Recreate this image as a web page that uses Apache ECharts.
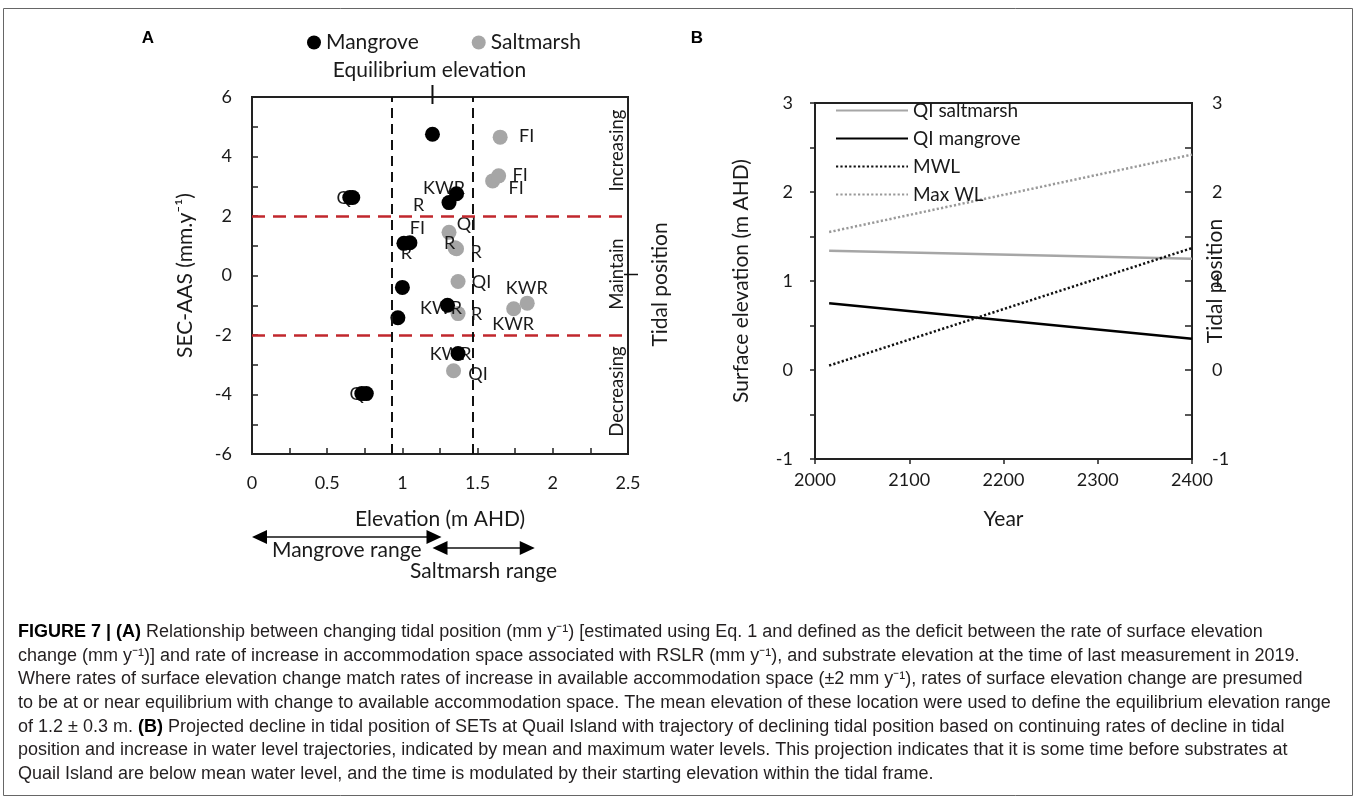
<!DOCTYPE html>
<html><head><meta charset="utf-8">
<script src="https://cdn.jsdelivr.net/npm/echarts@6/dist/echarts.min.js"></script>
<style>html,body{margin:0;padding:0;background:#fff}#c{width:1357px;height:802px}</style>
</head><body><div id="c"></div>
<script>
// ---------- Panel A data ----------
const mangroveElev = [1.20, 0.65, 0.67, 1.31, 1.36, 1.01, 1.05, 1.00, 0.97, 1.30, 1.37, 0.73, 0.76];
const mangroveSec  = [4.75, 2.62, 2.62, 2.45, 2.75, 1.08, 1.10, -0.40, -1.42, -1.00, -2.62, -3.97, -3.97];
const mangroveSite = ['', 'QI', '', 'R', 'KWR', 'R', 'FI', '', '', 'KWR', 'KWR', 'QI', ''];
const saltElev = [1.65, 1.60, 1.64, 1.31, 1.35, 1.36, 1.37, 1.74, 1.83, 1.37, 1.34];
const saltSec  = [4.65, 3.18, 3.35, 1.45, 0.93, 0.90, -0.20, -1.12, -0.93, -1.28, -3.20];
const saltSite = ['FI', 'FI', 'FI', 'QI', 'R', 'R', 'QI', 'KWR', 'KWR', 'R', 'QI'];
const equilibriumRange = [0.93, 1.47];
const equilibriumElev = 1.2;
const secBand = [2, -2];
const tidalZones = ['Increasing', 'Maintain', 'Decreasing'];
const tidalZoneY = [4.2, 0.05, -3.9];
const mangroveRange = [0.0, 1.26];
const saltmarshRange = [1.20, 1.88];

// ---------- Panel B data ----------
const years = [2015, 2400];
const qiSaltmarsh = [1.34, 1.25];
const qiMangrove = [0.75, 0.35];
const mwl = [0.05, 1.37];
const maxWl = [1.55, 2.42];

// label offsets (layout only)
const mangroveLabelOffset = [[0,0],[-3,1],[0,0],[-30,3],[-12,-5],[3,10],[8,-14],[0,0],[0,0],[-6,3],[-7,1],[-2,1],[0,0]];
const saltLabelOffset = [[27,0],[24,8],[22,0],[18,-8],[-5,-4],[20,4],[24,1],[0,16],[0,-14],[19,1],[25,4]];

const captionLines = [
 '{b|FIGURE 7 | (A)} Relationship between changing tidal position (mm y\u207B\u00B9) [estimated using Eq. 1 and defined as the deficit between the rate of surface elevation',
 'change (mm y\u207B\u00B9)] and rate of increase in accommodation space associated with RSLR (mm y\u207B\u00B9), and substrate elevation at the time of last measurement in 2019.',
 'Where rates of surface elevation change match rates of increase in available accommodation space (\u00B12 mm y\u207B\u00B9), rates of surface elevation change are presumed',
 'to be at or near equilibrium with change to available accommodation space. The mean elevation of these location were used to define the equilibrium elevation range',
 'of 1.2 \u00B1 0.3 m. {b|(B)} Projected decline in tidal position of SETs at Quail Island with trajectory of declining tidal position based on continuing rates of decline in tidal',
 'position and increase in water level trajectories, indicated by mean and maximum water levels. This projection indicates that it is some time before substrates at',
 'Quail Island are below mean water level, and the time is modulated by their starting elevation within the tidal frame.'
];

const font = 'Lato, "Open Sans", sans-serif';
const txt = '#1a1a1a';
const black = '#000000';
const gray = '#a6a6a6';
const nameSize = 21;

const chart = echarts.init(document.getElementById('c'), null, {renderer: 'canvas'});

const labelItems = [];
const labelOffsets = [];
function addLabels(xs, ys, sites, offs) {
  xs.forEach((x, i) => {
    if (sites[i]) { labelItems.push({value: [x, ys[i]], name: sites[i]}); labelOffsets.push(offs[i]); }
  });
}
addLabels(saltElev, saltSec, saltSite, saltLabelOffset);
addLabels(mangroveElev, mangroveSec, mangroveSite, mangroveLabelOffset);

const axisLine = {show: true, onZero: false, lineStyle: {color: '#222', width: 2}};
const lblStyle = {fontFamily: font, fontSize: 18, color: txt};
const nameStyle = {fontFamily: font, fontSize: nameSize, color: txt};

const option = {
  animation: false,
  backgroundColor: '#fff',
  grid: [
    {left: 252, right: 1357 - 628, top: 97, bottom: 802 - 454, show: true, borderColor: '#222', borderWidth: 2, backgroundColor: 'transparent'},
    {left: 815, right: 1357 - 1192, top: 103, bottom: 802 - 459, show: true, borderColor: '#222', borderWidth: 2, backgroundColor: 'transparent'}
  ],
  legend: [
    {data: ['Mangrove', 'Saltmarsh'], left: 302, top: 27, itemWidth: 14, itemHeight: 14, itemGap: 53, icon: 'circle',
     textStyle: {fontFamily: font, fontSize: nameSize, color: txt}, selectedMode: false},
    {data: ['QI saltmarsh', 'QI mangrove', 'MWL', 'Max WL'], orient: 'vertical', left: 830, top: 96, itemWidth: 72, itemHeight: 14, itemGap: 9,
     itemStyle: {opacity: 0}, textStyle: {fontFamily: font, fontSize: 19, color: txt}, selectedMode: false}
  ],
  xAxis: [
    {gridIndex: 0, type: 'value', min: 0, max: 2.5, interval: 0.5, axisLine,
     axisTick: {show: true, inside: true, length: 6, lineStyle: {color: '#222', width: 1.5}},
     minorTick: {show: true, splitNumber: 2, length: 6, lineStyle: {color: '#222', width: 1.5}},
     axisLabel: Object.assign({margin: 20}, lblStyle), splitLine: {show: false}, minorSplitLine: {show: false},
     name: 'Elevation (m AHD)', nameLocation: 'middle', nameGap: 55, nameTextStyle: nameStyle},
    {gridIndex: 1, type: 'value', min: 2000, max: 2400, interval: 100, axisLine,
     axisTick: {show: true, inside: false, length: 5, lineStyle: {color: '#222', width: 1.5}},
     axisLabel: Object.assign({margin: 12, formatter: v => String(v)}, lblStyle), splitLine: {show: false},
     name: 'Year', nameLocation: 'middle', nameGap: 50, nameTextStyle: nameStyle}
  ],
  yAxis: [
    {gridIndex: 0, type: 'value', min: -6, max: 6, interval: 2, axisLine,
     axisTick: {show: true, inside: true, length: 6, lineStyle: {color: '#222', width: 1.5}},
     minorTick: {show: true, splitNumber: 2, length: 6, lineStyle: {color: '#222', width: 1.5}},
     axisLabel: Object.assign({margin: 20}, lblStyle), splitLine: {show: false}, minorSplitLine: {show: false},
     name: 'SEC-AAS (mm.y\u207B\u00B9)', nameLocation: 'middle', nameGap: 56, nameRotate: 90, nameTextStyle: nameStyle},
    {gridIndex: 1, type: 'value', min: -1, max: 3, interval: 1, axisLine,
     axisTick: {show: true, inside: false, length: 5, lineStyle: {color: '#222', width: 1.5}},
     minorTick: {show: true, splitNumber: 2, length: 5, lineStyle: {color: '#222', width: 1.5}},
     axisLabel: Object.assign({margin: 22}, lblStyle), splitLine: {show: false}, minorSplitLine: {show: false},
     name: 'Surface elevation (m AHD)', nameLocation: 'middle', nameGap: 63, nameRotate: 90, nameTextStyle: nameStyle},
    {gridIndex: 1, type: 'value', position: 'right', min: -1, max: 3, interval: 1, axisLine,
     axisTick: {show: true, inside: true, length: 7, lineStyle: {color: '#222', width: 1.5}},
     minorTick: {show: true, splitNumber: 2, length: 7, lineStyle: {color: '#222', width: 1.5}},
     axisLabel: Object.assign({margin: 20}, lblStyle), splitLine: {show: false}, minorSplitLine: {show: false}}
  ],
  series: [
    {name: 'Saltmarsh', type: 'scatter', xAxisIndex: 0, yAxisIndex: 0, z: 2, symbolSize: 15,
     itemStyle: {color: gray, opacity: 1}, emphasis: {disabled: true},
     data: saltElev.map((x, i) => [x, saltSec[i]]),
     markLine: {silent: true, symbol: 'none', label: {show: false}, animation: false,
       data: [
         ...secBand.map(v => ({yAxis: v, lineStyle: {color: '#c1272d', width: 2.5, type: [13, 8]}})),
         ...equilibriumRange.map(v => ({xAxis: v, lineStyle: {color: '#111', width: 2, type: [10, 6]}}))
       ]}},
    {name: 'siteLabels', type: 'scatter', xAxisIndex: 0, yAxisIndex: 0, z: 3, symbolSize: 1,
     itemStyle: {color: 'rgba(255,255,255,0)'}, emphasis: {disabled: true}, silent: true,
     label: {show: true, position: [0, 0], align: 'center', verticalAlign: 'middle', formatter: '{b}',
             fontFamily: font, fontSize: 18, color: '#1a1a1a', opacity: 1, textBorderWidth: 0},
     labelLayout: function (p) {
       const o = labelOffsets[p.dataIndex] || [0, 0];
       return {dx: o[0], dy: o[1], hideOverlap: false};
     },
     data: labelItems},
    {name: 'Mangrove', type: 'scatter', xAxisIndex: 0, yAxisIndex: 0, z: 4, symbolSize: 15,
     itemStyle: {color: black, opacity: 1}, emphasis: {disabled: true},
     data: mangroveElev.map((x, i) => [x, mangroveSec[i]])},

    {name: 'QI saltmarsh', type: 'line', xAxisIndex: 1, yAxisIndex: 1, symbol: 'none', color: gray,
     lineStyle: {color: gray, width: 2.5}, data: years.map((y, i) => [y, qiSaltmarsh[i]])},
    {name: 'QI mangrove', type: 'line', xAxisIndex: 1, yAxisIndex: 1, symbol: 'none', color: black,
     lineStyle: {color: black, width: 2.5}, data: years.map((y, i) => [y, qiMangrove[i]])},
    {name: 'MWL', type: 'line', xAxisIndex: 1, yAxisIndex: 1, symbol: 'none', color: black,
     lineStyle: {color: '#111', width: 2.5, type: [2.2, 2.2]}, data: years.map((y, i) => [y, mwl[i]])},
    {name: 'Max WL', type: 'line', xAxisIndex: 1, yAxisIndex: 1, symbol: 'none', color: '#999',
     lineStyle: {color: '#999', width: 2.5, type: [2.2, 2.2]}, data: years.map((y, i) => [y, maxWl[i]])}
  ]
};
chart.setOption(option);

// ---------- annotations computed via axis scales ----------
const pA = (x, y) => chart.convertToPixel({gridIndex: 0}, [x, y]);
const pB = (x, y) => chart.convertToPixel({gridIndex: 1}, [x, y]);
const g = [];

// equilibrium tick
const eq = pA(equilibriumElev, 6);
g.push({type: 'line', shape: {x1: eq[0], y1: eq[1] - 12, x2: eq[0], y2: eq[1] + 7}, style: {stroke: '#111', lineWidth: 2}, z: 10});
g.push({type: 'text', x: eq[0] - 3, y: eq[1] - 27, style: {text: 'Equilibrium elevation', fontFamily: font, fontSize: nameSize, fill: txt, align: 'center', verticalAlign: 'middle'}});

// right tick at 0 and tidal position label
const z0 = pA(2.5, 0);
g.push({type: 'line', shape: {x1: z0[0] - 4, y1: z0[1] - 1, x2: z0[0] + 10, y2: z0[1] - 1}, style: {stroke: '#111', lineWidth: 1.5}, z: 10});
const tp = pA(2.5, -0.3);
g.push({type: 'text', x: tp[0] + 32, y: tp[1], rotation: Math.PI / 2, style: {text: 'Tidal position', fontFamily: font, fontSize: nameSize, fill: txt, align: 'center', verticalAlign: 'middle'}});

tidalZones.forEach((t, i) => {
  const p = pA(2.43, tidalZoneY[i]);
  g.push({type: 'text', x: p[0], y: p[1], rotation: Math.PI / 2, style: {text: t, fontFamily: font, fontSize: 18.5, fill: txt, align: 'center', verticalAlign: 'middle'}});
});

// panel B right axis title
const tpB = pB(2400, 1.0);
g.push({type: 'text', x: tpB[0] + 23, y: tpB[1], rotation: Math.PI / 2, style: {text: 'Tidal position', fontFamily: font, fontSize: nameSize, fill: txt, align: 'center', verticalAlign: 'middle'}});

// range arrows
function arrow(xa, xb, y) {
  const a = pA(xa, 0)[0], b = pA(xb, 0)[0];
  const L = 15, H = 7;
  g.push({type: 'line', shape: {x1: a + L - 2, y1: y, x2: b - L + 2, y2: y}, style: {stroke: '#111', lineWidth: 1.5}});
  g.push({type: 'polygon', shape: {points: [[a, y], [a + L, y - H], [a + L, y + H]]}, style: {fill: '#000'}});
  g.push({type: 'polygon', shape: {points: [[b, y], [b - L, y - H], [b - L, y + H]]}, style: {fill: '#000'}});
}
arrow(mangroveRange[0], mangroveRange[1], 537);
arrow(saltmarshRange[0], saltmarshRange[1], 548);
g.push({type: 'text', x: pA(0.63, 0)[0], y: 550, style: {text: 'Mangrove range', fontFamily: font, fontSize: nameSize, fill: txt, align: 'center', verticalAlign: 'middle'}});
g.push({type: 'text', x: pA(1.54, 0)[0], y: 571, style: {text: 'Saltmarsh range', fontFamily: font, fontSize: nameSize, fill: txt, align: 'center', verticalAlign: 'middle'}});

// panel letters
g.push({type: 'text', x: 148, y: 38, style: {text: 'A', fontFamily: '"Liberation Sans", Arial, sans-serif', fontWeight: 'bold', fontSize: 17, fill: '#000', align: 'center', verticalAlign: 'middle'}});
g.push({type: 'text', x: 697, y: 38, style: {text: 'B', fontFamily: '"Liberation Sans", Arial, sans-serif', fontWeight: 'bold', fontSize: 17, fill: '#000', align: 'center', verticalAlign: 'middle'}});

// frame
g.push({type: 'rect', shape: {x: 3.5, y: 8.5, width: 1349, height: 787}, style: {fill: 'none', stroke: '#666', lineWidth: 1}, z: -1});

// caption
const capFamily = '"Liberation Sans", Arial, sans-serif';
const ctx = document.createElement('canvas').getContext('2d');
ctx.font = '100px ' + capFamily;
const w2 = ctx.measureText(captionLines[1]).width;
const capSize = Math.max(13, Math.min(18, 100 * 1312 / w2));
captionLines.forEach((line, i) => {
  g.push({type: 'text', x: 18, y: 632 + i * 23.7, style: {
    text: line, fontFamily: capFamily, fontSize: capSize, fill: '#231f20', align: 'left', verticalAlign: 'middle',
    rich: {b: {fontFamily: capFamily, fontSize: capSize, fontWeight: 'bold', fill: '#000'}}
  }});
});

chart.setOption({graphic: {elements: g}});
</script>
</body></html>
